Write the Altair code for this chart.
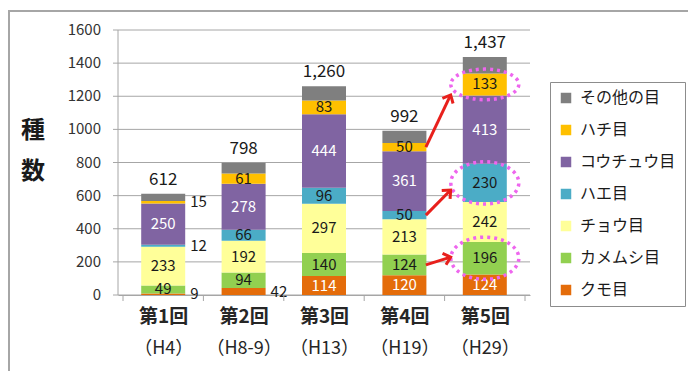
import math
import altair as alt
import pandas as pd

# ---------------- data ----------------
rounds = ["第1回", "第2回", "第3回", "第4回", "第5回"]
eras = ["（H4）", "（H8-9）", "（H13）", "（H19）", "（H29）"]
orders = ["クモ目", "カメムシ目", "チョウ目", "ハエ目", "コウチュウ目", "ハチ目", "その他の目"]  # bottom -> top
kumo = [9, 42, 114, 120, 124]
kamemushi = [49, 94, 140, 124, 196]
chou = [233, 192, 297, 213, 242]
hae = [12, 66, 96, 50, 230]
kouchuu = [250, 278, 444, 361, 413]
hachi = [15, 61, 83, 50, 133]
sonota = [44, 65, 86, 74, 99]
totals = [612, 798, 1260, 992, 1437]
y_ticks = [0, 200, 400, 600, 800, 1000, 1200, 1400, 1600]
y_title = "種\n数"
order_colors = ["#e46c0a", "#92d050", "#ffff99", "#4bacc6", "#8064a2", "#ffc000", "#7f7f7f"]

highlight_orders = ["カメムシ目", "ハエ目", "ハチ目"]      # circled in 第5回
arrow_targets = [229, 634, 1208]                            # arrow tips (species count level) at 第5回

series = [kumo, kamemushi, chou, hae, kouchuu, hachi, sonota]

# ---------------- layout constants ----------------
W, H = 412, 265
YMAX = 1600
NB = len(rounds)
band = W / NB
bar_half = 22

rows = []
for k, (name, vals) in enumerate(zip(orders, series)):
    for i, r in enumerate(rounds):
        v = vals[i]
        if name == "その他の目":
            kind = "none"
        elif v < 45:
            kind = "out"
        else:
            kind = "in"
        rows.append({"回": r, "xpos": i + 0.5, "目": name, "value": v, "idx": k, "kind": kind})
df = pd.DataFrame(rows)
tot_df = pd.DataFrame({"回": rounds, "xpos": [i + 0.5 for i in range(NB)], "total": totals})
grid_df = pd.DataFrame({"y": y_ticks})
edge_df = pd.DataFrame({"e": list(range(NB + 1))})

font = "Noto Sans CJK JP"
rounds_js = "[" + ",".join(f"'{r}'" for r in rounds) + "]"
eras_js = "[" + ",".join(f"'{e}'" for e in eras) + "]"
centers = [i + 0.5 for i in range(NB)]

xscale = alt.Scale(domain=[0, NB], nice=False, zero=False)
yscale = alt.Scale(domain=[0, YMAX], nice=False)
color_scale = alt.Scale(domain=orders[::-1], range=order_colors[::-1])

# y axis: gridlines (extended left as tick marks), labels, axis line, title
ygrid = alt.Chart(grid_df).mark_rule(color="#a6a6a6", strokeWidth=1).encode(
    y=alt.Y("y:Q", scale=yscale, axis=None),
    x=alt.value(-5), x2=alt.value(W),
)
ylabels = alt.Chart(grid_df).mark_text(
    font=font, fontSize=15, color="#333333", align="right", baseline="middle", dx=-17
).encode(
    y=alt.Y("y:Q", scale=yscale, axis=None),
    x=alt.value(0),
    text=alt.Text("y:Q"),
)
ydomain = alt.Chart(pd.DataFrame({"y": [0]})).mark_rule(color="#a6a6a6", strokeWidth=1).encode(
    x=alt.value(0), y=alt.value(0), y2=alt.value(H),
)

ytitle = alt.Chart(pd.DataFrame({"t": [y_title]})).mark_text(
    font=font, fontSize=24, fontWeight="bold", color="#1a1a1a", lineBreak="\n",
    lineHeight=41, align="center", baseline="middle"
).encode(
    text="t:N", x=alt.value(-85), y=alt.value(101),
)

bars = alt.Chart(df).mark_bar(size=44).encode(
    x=alt.X("xpos:Q", scale=xscale,
            axis=alt.Axis(title=None, orient="bottom", values=centers,
                          labelExpr=f"{rounds_js}[round(datum.value - 0.5)]",
                          labelFont=font, labelFontSize=19, labelFontWeight="bold",
                          labelColor="#262626", labelPadding=12, labelAngle=0,
                          domainColor="#a6a6a6", ticks=False, grid=False)),
    y=alt.Y("value:Q", stack="zero", scale=yscale, axis=None),
    color=alt.Color("目:N", scale=color_scale,
                    legend=alt.Legend(title=None, orient="none", legendX=432, legendY=52,
                                      labelFont=font, labelFontSize=16, labelColor="#1a1a1a",
                                      symbolType="square", symbolSize=110, symbolStrokeWidth=0,
                                      rowPadding=16, padding=8, strokeColor="#8c8c8c",
                                      fillColor="white", labelOffset=6)),
    order=alt.Order("idx:Q"),
)

stacked = alt.Chart(df).transform_stack(
    stack="value", groupby=["回"], sort=[alt.SortField("idx")], as_=["y0", "y1"]
).transform_calculate(mid="(datum.y0 + datum.y1) / 2")

inside = stacked.transform_filter("datum.kind == 'in'").mark_text(
    font=font, fontSize=15, baseline="middle"
).encode(
    x=alt.X("xpos:Q", scale=xscale, axis=None),
    y=alt.Y("mid:Q", scale=yscale, axis=None),
    text=alt.Text("value:Q"),
    color=alt.condition("datum['目'] == 'コウチュウ目' || datum['目'] == 'クモ目'",
                        alt.value("#ffffff"), alt.value("#1a1a1a")),
)

outside = stacked.transform_filter("datum.kind == 'out'").mark_text(
    font=font, fontSize=15, baseline="middle", align="left", dx=bar_half + 5, color="#1a1a1a"
).encode(
    x=alt.X("xpos:Q", scale=xscale, axis=None),
    y=alt.Y("mid:Q", scale=yscale, axis=None),
    text=alt.Text("value:Q"),
)

tot = alt.Chart(tot_df).mark_text(
    font=font, fontSize=17, baseline="bottom", dy=-5, color="#1a1a1a"
).encode(
    x=alt.X("xpos:Q", scale=xscale,
            axis=alt.Axis(title=None, orient="bottom", values=centers,
                          labelExpr=f"{eras_js}[round(datum.value - 0.5)]",
                          labelFont=font, labelFontSize=18, labelColor="#262626",
                          labelPadding=44, labelAngle=0, domain=False, ticks=False, grid=False)),
    y=alt.Y("total:Q", scale=yscale, axis=None),
    text=alt.Text("total:Q", format=","),
)

# category boundary ticks under the x axis
edge_ticks = alt.Chart(edge_df).mark_rule(color="#a6a6a6", strokeWidth=1).encode(
    x=alt.X("e:Q", scale=xscale, axis=None),
    y=alt.value(H), y2=alt.value(H + 6),
)

ell_big = "M-1,0A1,0.62,0,1,0,1,0A1,0.62,0,1,0,-1,0Z"
ell_small = "M-1,0A1,0.45,0,1,0,1,0A1,0.45,0,1,0,-1,0Z"
hl_filter = "datum['回'] == '第5回' && indexof(" + str(highlight_orders) + ", datum['目']) >= 0"
ellipses = stacked.transform_filter(hl_filter).mark_point(
    filled=False, stroke="#ee66ee", strokeWidth=3.5, strokeDash=[3, 4], size=68 * 68, opacity=1
).encode(
    x=alt.X("xpos:Q", scale=xscale, axis=None),
    y=alt.Y("mid:Q", scale=yscale, axis=None),
    shape=alt.condition("datum['目'] == 'ハチ目'", alt.value(ell_small), alt.value(ell_big)),
)

# ---------------- arrows (from 第4回 segments to 第5回 circles) ----------------
cum4 = 0
mids4 = {}
for name, vals in zip(orders, series):
    mids4[name] = cum4 + vals[3] / 2
    cum4 += vals[3]
x_from = 3 + 0.5 + bar_half / band
x_to = 4 + 0.5 - 35 / band
arr_rows = []
for name, tgt in zip(highlight_orders, arrow_targets):
    y0 = mids4[name]
    dxp = (x_to - x_from) * band
    dyp = (tgt - y0) * H / YMAX
    ang = math.degrees(math.atan2(dxp, dyp)) % 360
    arr_rows.append({"x0": x_from, "x1": x_to, "y0": y0, "y1": tgt, "ang": ang})
arr_df = pd.DataFrame(arr_rows)

arrow_lines = alt.Chart(arr_df).mark_rule(color="#e8201c", strokeWidth=3).encode(
    x=alt.X("x0:Q", scale=xscale, axis=None), x2="x1:Q",
    y=alt.Y("y0:Q", scale=yscale, axis=None), y2="y1:Q",
)
arrow_heads = alt.Chart(arr_df).mark_point(
    shape="M-0.8,0.9L0,0L0.8,0.9", filled=False, stroke="#e8201c", strokeWidth=3,
    size=220, opacity=1
).encode(
    x=alt.X("x1:Q", scale=xscale, axis=None),
    y=alt.Y("y1:Q", scale=yscale, axis=None),
    angle=alt.Angle("ang:Q", scale=None),
)

frame = alt.Chart(pd.DataFrame({"a": [0]})).mark_rect(
    fillOpacity=0, stroke="#a6a6a6", strokeWidth=2
).encode(
    x=alt.value(-109), x2=alt.value(600), y=alt.value(-19), y2=alt.value(400)
)

chart = alt.layer(
    ygrid, ydomain, ylabels, ytitle, bars, inside, outside, tot, edge_ticks, ellipses,
    arrow_lines, arrow_heads, frame
).resolve_axis(
    x="independent"
).properties(
    width=W, height=H, background="white",
    autosize=alt.AutoSizeParams(type="none"),
    padding={"left": 118, "top": 30, "right": 158, "bottom": 76},
).configure_view(strokeOpacity=0)

chart.save("out.html", embed_options={"renderer": "svg", "actions": False})
